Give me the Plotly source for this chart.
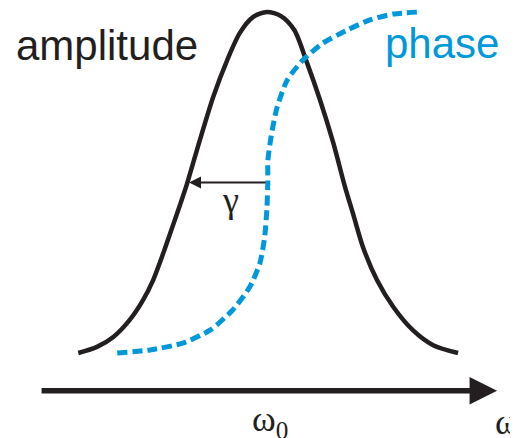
import plotly.graph_objects as go

# ---- data ----
# detuning (omega - omega0) in units of gamma, amplitude normalised to peak
amp_omega = [-2.42, -2.18, -1.97, -1.76, -1.59, -1.46, -1.33, -1.24, -1.15, -1.03,
             -0.86, -0.69, -0.51, -0.35, -0.18, 0.0, 0.18, 0.35, 0.51, 0.68,
             0.85, 1.00, 1.10, 1.23, 1.41, 1.62, 1.87, 2.13, 2.45]
amp_value = [0.0, 0.018, 0.047, 0.097, 0.155, 0.214, 0.293, 0.352, 0.411, 0.493,
             0.625, 0.751, 0.859, 0.938, 0.985, 1.0, 0.988, 0.947, 0.853, 0.742,
             0.616, 0.487, 0.411, 0.311, 0.214, 0.135, 0.067, 0.023, 0.0]

# phase in units of pi
phase_omega = [-1.92, -1.50, -1.08, -0.73, -0.44, -0.22, -0.09, -0.03, 0.0, 0.01,
               0.012, 0.06, 0.13, 0.26, 0.46, 0.72, 1.03, 1.32, 1.62, 1.95]
phase_value = [0.0, 0.009, 0.029, 0.067, 0.126, 0.194, 0.264, 0.340, 0.428, 0.499,
               0.566, 0.645, 0.721, 0.801, 0.859, 0.909, 0.947, 0.977, 0.994, 1.0]

omega0 = 0.0
gamma = 1.0
half_max = 0.5
axis_start, axis_end, axis_level = -2.91, 2.95, -0.111

BLACK = "#231F20"
BLUE = "#0098DA"

fig = go.Figure()
fig.add_trace(go.Scatter(x=amp_omega, y=amp_value, mode="lines",
                         line=dict(color=BLACK, width=4.5, shape="spline", smoothing=0.8),
                         hoverinfo="skip", showlegend=False))
fig.add_trace(go.Scatter(x=phase_omega, y=phase_value, mode="lines",
                         line=dict(color=BLUE, width=5, dash="10px,5px", shape="spline", smoothing=0.6),
                         hoverinfo="skip", showlegend=False))

# frequency axis arrow
fig.add_annotation(x=axis_end, y=axis_level, ax=axis_start, ay=axis_level,
                   xref="x", yref="y", axref="x", ayref="y", text="",
                   showarrow=True, arrowhead=2, arrowwidth=5.5, arrowsize=1.0,
                   arrowcolor=BLACK, standoff=0, startstandoff=0)
# gamma arrow (HWHM)
fig.add_annotation(x=omega0 - gamma, y=half_max, ax=omega0, ay=half_max,
                   xref="x", yref="y", axref="x", ayref="y", text="",
                   showarrow=True, arrowhead=2, arrowwidth=2, arrowsize=1.2,
                   arrowcolor=BLACK, standoff=0, startstandoff=0)

serif = "Liberation Serif"
sans = "Liberation Sans"
fig.add_annotation(x=-2.05, y=0.903, text="amplitude", showarrow=False,
                   font=dict(family=sans, size=42, color=BLACK), xanchor="center", yanchor="middle")
fig.add_annotation(x=2.24, y=0.909, text="phase", showarrow=False,
                   font=dict(family=sans, size=42, color=BLUE), xanchor="center", yanchor="middle")
fig.add_annotation(x=-0.47, y=0.449, text="γ", showarrow=False,
                   font=dict(family=serif, size=36, color=BLACK), xanchor="center", yanchor="middle")
fig.add_annotation(x=0.04, y=-0.202, text="ω<sub>0</sub>", showarrow=False,
                   font=dict(family=serif, size=36, color=BLACK), xanchor="center", yanchor="middle")
fig.add_annotation(x=2.90, y=-0.202, text="ω", showarrow=False,
                   font=dict(family=serif, size=36, color=BLACK), xanchor="left", yanchor="middle")

# the page body adds an 8px offset, so the ranges start 8px into the reference frame
fig.update_layout(width=518, height=438, margin=dict(l=0, r=0, t=0, b=0),
                  paper_bgcolor="white", plot_bgcolor="white", showlegend=False,
                  xaxis=dict(range=[-3.321, 3.321], visible=False, fixedrange=True),
                  yaxis=dict(range=[-0.2727, 1.0117], visible=False, fixedrange=True))
fig.write_html("out.html")
